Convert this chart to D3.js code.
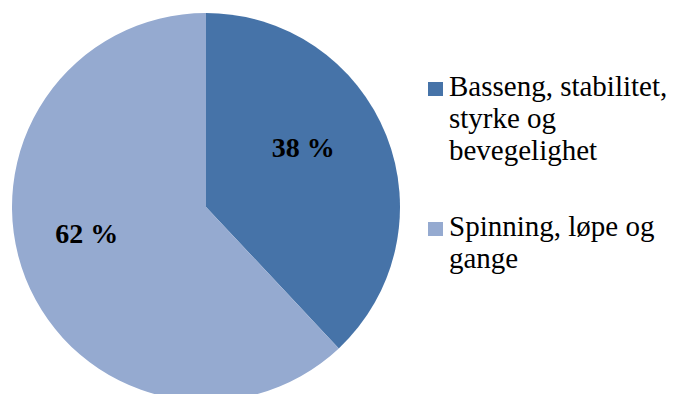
<!DOCTYPE html>
<html>
<head>
<meta charset="utf-8">
<script src="https://cdn.jsdelivr.net/npm/d3@7"></script>
<style>
  body { margin: 0; background: #fff; }
  svg text { font-family: "Liberation Serif", "Times New Roman", Times, "DejaVu Serif", serif; }
</style>
</head>
<body>
<svg id="chart" width="673" height="394"></svg>
<script>
const categories = ["Basseng, stabilitet, styrke og bevegelighet", "Spinning, løpe og gange"]
const values = [38, 62]
const legendLines = [["Basseng, stabilitet,", "styrke og", "bevegelighet"], ["Spinning, løpe og", "gange"]]
const colors = ["#4673a8", "#95aad0"]

const svg = d3.select("#chart")
const cx = 206, cy = 207, radius = 194

const pie = d3.pie().sort(null).value(d => d)
const arc = d3.arc().innerRadius(0).outerRadius(radius)
const labelArc = d3.arc().innerRadius(radius * 0.6).outerRadius(radius * 0.6)

const g = svg.append("g").attr("transform", `translate(${cx},${cy})`)
const arcs = pie(values)

g.selectAll("path")
    .data(arcs)
    .join("path")
    .attr("d", arc)
    .attr("fill", (d, i) => colors[i])

// labels sit a bit up-left of the centroid, like in the original
g.selectAll("text")
    .data(arcs)
    .join("text")
    .attr("transform", d => {
        const [x, y] = labelArc.centroid(d)
        return `translate(${x - 11},${y - 17})`
    })
    .attr("text-anchor", "middle")
    .attr("dy", "0.35em")
    .style("font-size", "28px")
    .style("font-weight", "bold")
    .text(d => d.value + " %")

// legend
const legend = svg.append("g")
const legendY = [96, 236]
categories.forEach((c, i) => {
    const item = legend.append("g").attr("transform", `translate(428,${legendY[i]})`)
    item.append("rect")
        .attr("x", 0).attr("y", -14)
        .attr("width", 15).attr("height", 14)
        .attr("fill", colors[i])
    const t = item.append("text")
        .style("font-size", "29px")
        .attr("fill", "#000")
    legendLines[i].forEach((line, j) => {
        t.append("tspan").attr("x", 21).attr("y", j * 32).text(line)
    })
})
</script>
</body>
</html>
